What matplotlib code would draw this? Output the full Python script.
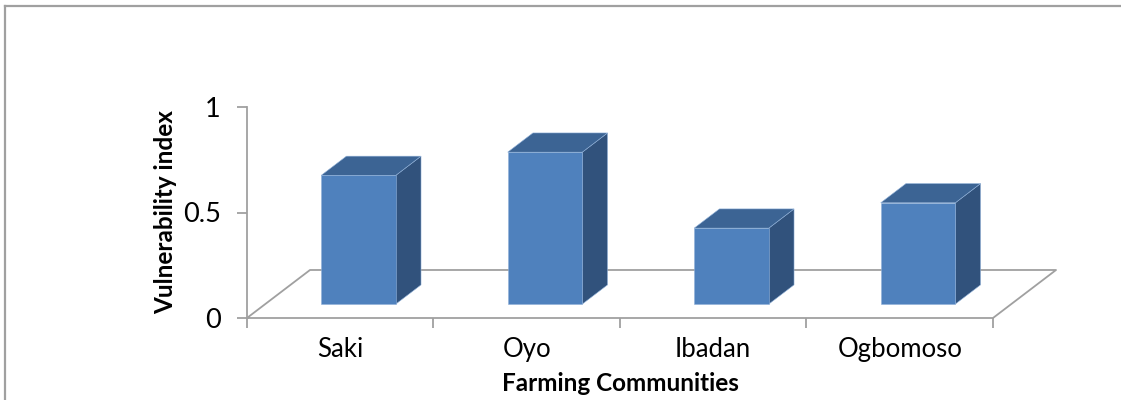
"""Vulnerability index of the farming communities, drawn as Excel-style 3-D columns."""
import matplotlib
matplotlib.use("Agg")  # headless
import matplotlib.pyplot as plt
from matplotlib.lines import Line2D
from matplotlib.patches import Polygon

communities = ["Saki", "Oyo", "Ibadan", "Ogbomoso"]
vulnerability = [0.61, 0.72, 0.36, 0.48]
y_ticks = [0, 0.5, 1]
y_tick_labels = ["0", "0.5", "1"]

FRONT = "#4f81bd"
TOP = "#3c6494"
SIDE = "#31527c"
LINE = "#a0a0a0"

# oblique projection of the floor depth, in data units
DEPTH_X = 0.338
DEPTH_Y = 0.2275
BAR_W = 0.40
BAR_NEAR, BAR_FAR = 0.29, 0.69

plt.rcParams["font.family"] = ["Lato", "DejaVu Sans"]

fig = plt.figure(figsize=(11.21, 4.0), dpi=100)
ax = fig.add_axes([0.2203, 0.205, 0.6655, 0.5275])
n = len(communities)
ax.set_xlim(0, n)
ax.set_ylim(0, 1)

for side in ("top", "right", "bottom"):
    ax.spines[side].set_visible(False)
ax.spines["left"].set_color(LINE)
ax.spines["left"].set_linewidth(1.3)

# floor: front edge, both side edges and the back edge
floor_x = [0, n, n + DEPTH_X, DEPTH_X, 0]
floor_y = [0, 0, DEPTH_Y, DEPTH_Y, 0]
ax.plot(floor_x, floor_y, color=LINE, lw=1.3, clip_on=False, zorder=1)

dx = (BAR_FAR - BAR_NEAR) * DEPTH_X
dy = (BAR_FAR - BAR_NEAR) * DEPTH_Y
for i, v in enumerate(vulnerability):
    x0 = i + 0.5 - BAR_W / 2 + BAR_NEAR * DEPTH_X
    y0 = BAR_NEAR * DEPTH_Y
    x1 = x0 + BAR_W
    y1 = y0 + v
    front = [(x0, y0), (x1, y0), (x1, y1), (x0, y1)]
    top = [(x0, y1), (x1, y1), (x1 + dx, y1 + dy), (x0 + dx, y1 + dy)]
    right = [(x1, y0), (x1 + dx, y0 + dy), (x1 + dx, y1 + dy), (x1, y1)]
    for verts, color in ((right, SIDE), (top, TOP), (front, FRONT)):
        ax.add_patch(Polygon(verts, closed=True, facecolor=color,
                             edgecolor="#8fb0d8", lw=0.4, zorder=3,
                             clip_on=False))

ax.set_yticks(y_ticks, y_tick_labels)
ax.tick_params(axis="y", length=7, width=1.3, color=LINE, pad=12,
               labelsize=19.5)

ax.set_xticks(range(n + 1), [""] * (n + 1))
ax.set_xticks([i + 0.5 for i in range(n)], communities, minor=True)
ax.tick_params(axis="x", which="major", length=7, width=1.3, color=LINE)
ax.tick_params(axis="x", which="minor", length=0, pad=14, labelsize=18.5)

ax.set_xlabel("Farming Communities", fontsize=17.5, fontweight="bold",
              labelpad=7)
ax.set_ylabel("Vulnerability index", fontsize=17.5, fontweight="bold",
              labelpad=4)

# chart frame (left and top edges only)
fig.add_artist(Line2D([0.0045, 0.0045], [0, 0.985], color=LINE, lw=1.6,
                      transform=fig.transFigure))
fig.add_artist(Line2D([0.0045, 1], [0.985, 0.985], color=LINE, lw=1.6,
                      transform=fig.transFigure))

fig.savefig("out.png", dpi=100)
plt.close(fig)
